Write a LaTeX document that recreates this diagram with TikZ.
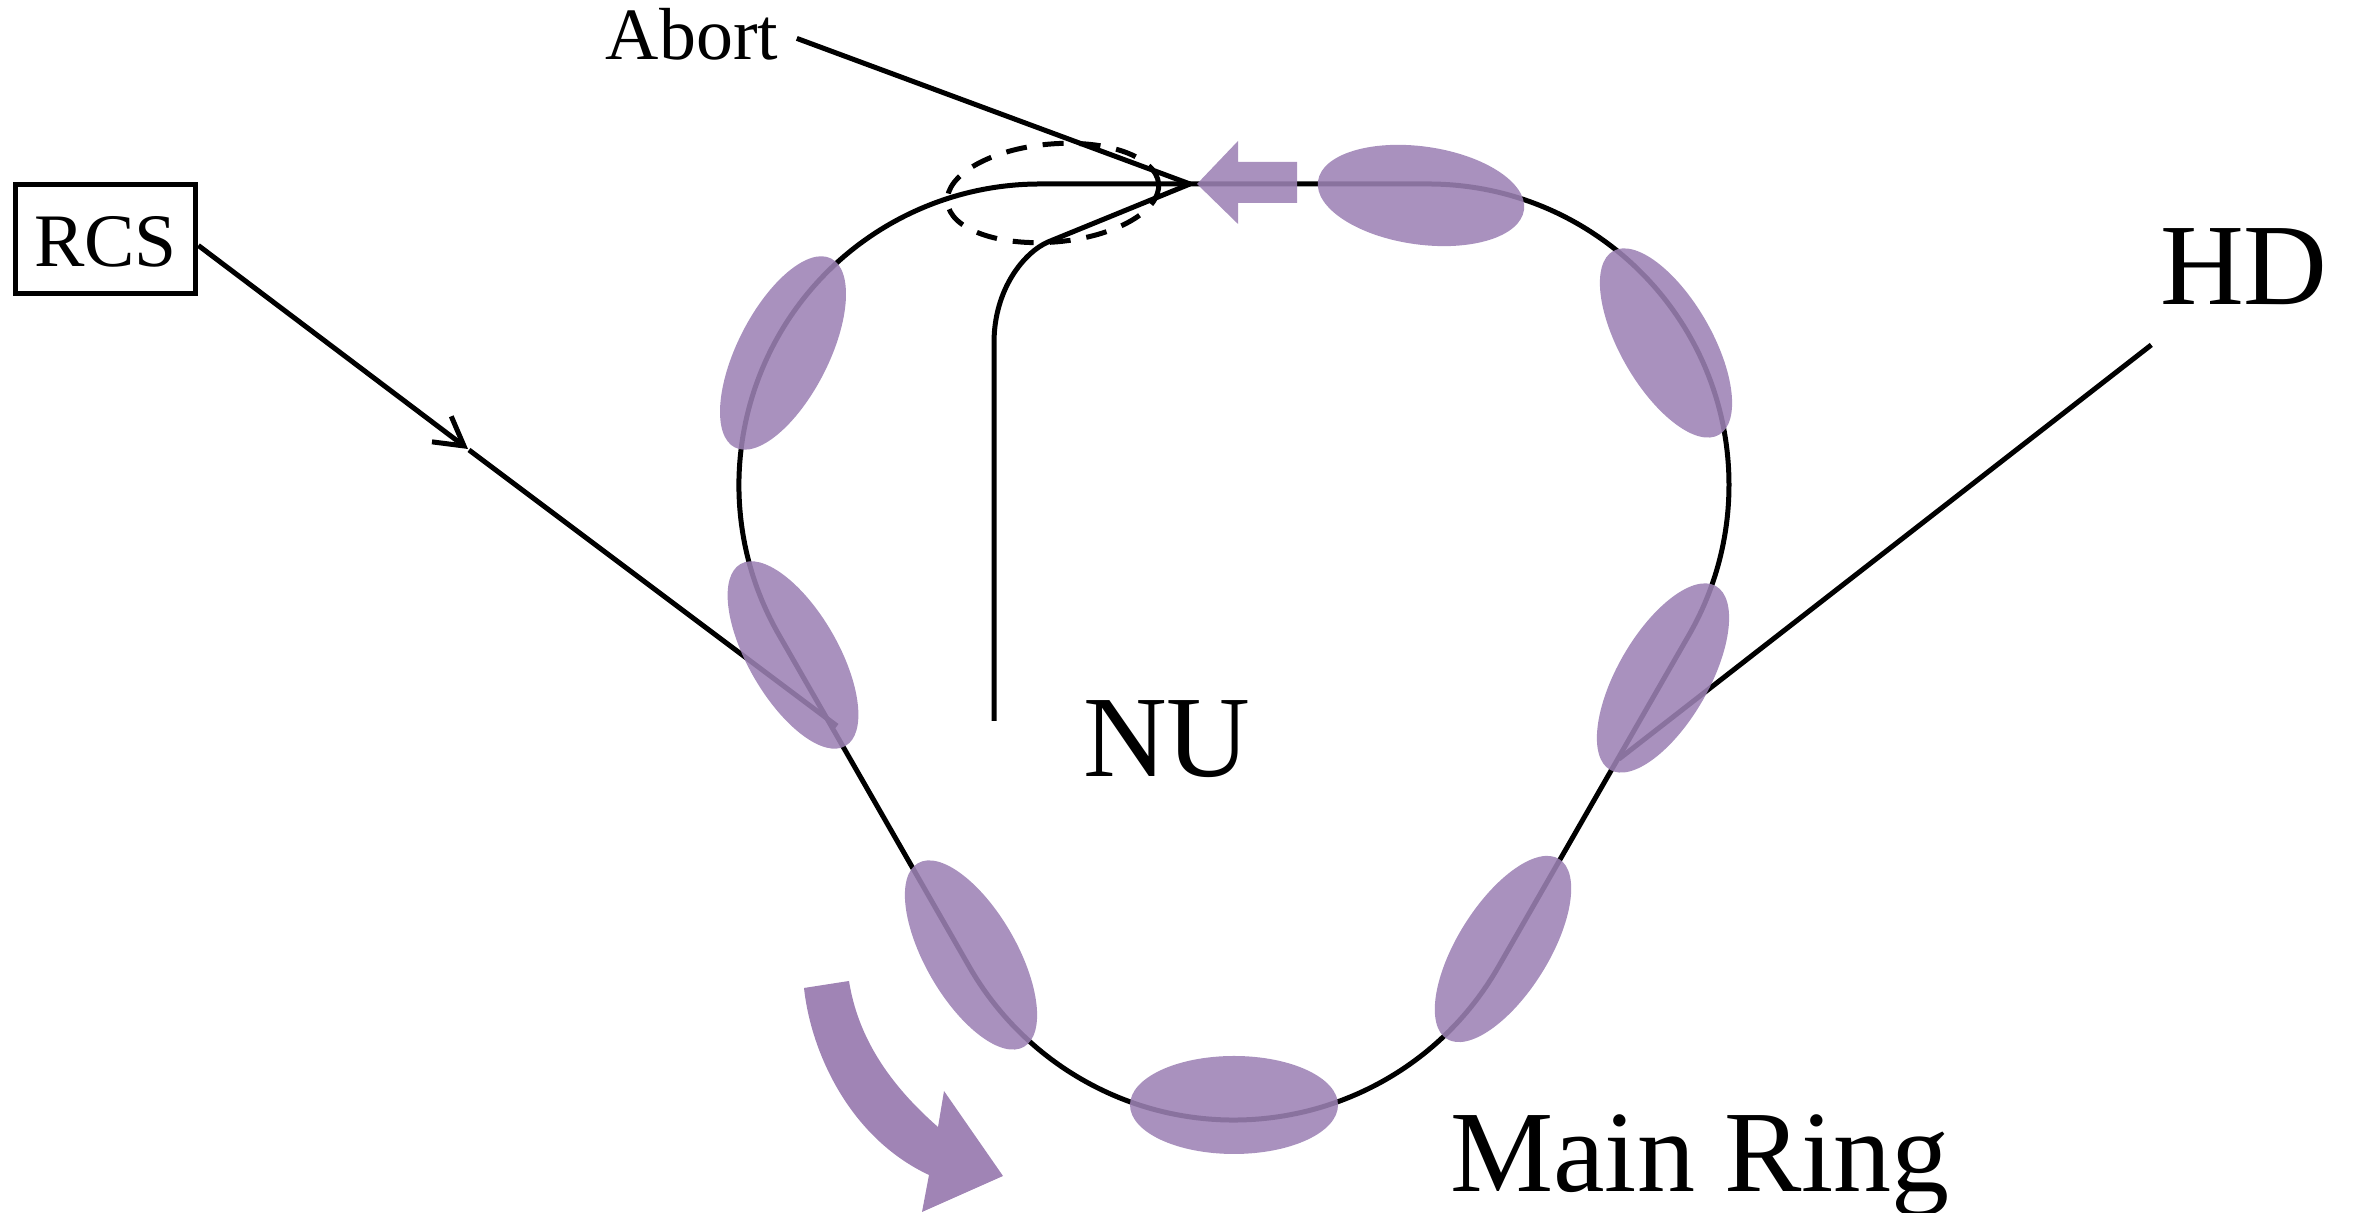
\documentclass[tikz,border=0pt]{standalone}
\usepackage{fontspec}
\setmainfont{Liberation Serif}
\usetikzlibrary{arrows.meta}
\definecolor{bunchcolor}{RGB}{157,130,181}
\definecolor{sensecolor}{RGB}{160,132,181}
\begin{document}
\begin{tikzpicture}[
    beam/.style={line width=.5mm},
    bunch/.style={fill=bunchcolor, fill opacity=.88},
    biglabel/.style={font=\fontsize{33}{33}\selectfont, anchor=base},
    smalllabel/.style={font=\fontsize{21}{21}\selectfont, anchor=base}
  ]
    \useasboundingbox (0,0) rectangle (235.7mm,121.3mm);

    \coordinate (kick) at (119mm,102.9mm);
    \coordinate (rcstip) at (46.8mm,76.4mm);
    \coordinate (rcsend) at (83.7mm,48.7mm);
    \coordinate (hdend) at (161.9mm,45.4mm);
    \coordinate (nubend) at (104.8mm,97.1mm);
    \coordinate (nuend) at (99.4mm,49.2mm);

    \node [draw, line width=.52mm, inner sep=0, minimum width=18.05mm, minimum height=10.95mm,
      text height=5.6mm, font=\fontsize{21.5}{22}\selectfont] (rcs) at (10.55mm,97.4mm) {RCS};
    \node [smalllabel, inner sep=1.8mm] (abort) at (69.2mm,115.3mm) {Abort};
    \node [biglabel, inner sep=3.9mm] (hd) at (224.4mm,90.8mm) {HD};
    \node [biglabel] (nu) at (116.7mm,43.6mm) {NU};
    \node [biglabel] (mainring) at (170mm,2.1mm) {Main Ring};

    % ring
    \draw [beam]
    (104mm,102.9mm) -- (142.8mm,102.9mm)
    arc (90:-30:30.1mm)
    -- (149.8mm,24.55mm)
    arc (-30:-150:30.5mm)
    -- (77.93mm,57.75mm)
    arc (-150:-270:30.1mm)
    -- cycle;

    % transfer lines
    \draw [beam, -{Straight Barb[length=2.8mm,width=3.2mm]}] (rcs.-4) -- (rcstip);
    \draw [beam] ([shift={(.1mm,-.1mm)}]rcstip) -- (rcsend);
    \draw [beam] (abort.-2) -- (kick);
    \draw [beam] (hd.220) -- (hdend);
    \draw [beam]
    (kick) -- (nubend)
    .. controls (102.5mm,96.1mm) and (99.4mm,92.5mm) .. (99.4mm,87mm)
    -- (nuend);

    \draw [beam, dash pattern=on 2.1mm off 1.6mm, rotate around={5:(105.3mm,102mm)}]
    (105.3mm,102mm) circle (10.6mm and 4.9mm);

    % bunches
    \fill [bunch, rotate around={-8:(142.1mm,101.75mm)}] (142.1mm,101.75mm) ellipse (10.4mm and 4.9mm);
    \fill [bunch, rotate around={120:(166.6mm,87mm)}] (166.6mm,87mm) ellipse (10.6mm and 4.56mm);
    \fill [bunch, rotate around={60:(166.3mm,53.5mm)}] (166.3mm,53.5mm) ellipse (10.6mm and 4.56mm);
    \fill [bunch, rotate around={58:(150.3mm,26.4mm)}] (150.3mm,26.4mm) ellipse (10.6mm and 4.56mm);
    \fill [bunch] (123.4mm,10.8mm) ellipse (10.4mm and 4.9mm);
    \fill [bunch, rotate around={120:(97.1mm,25.8mm)}] (97.1mm,25.8mm) ellipse (10.6mm and 4.56mm);
    \fill [bunch, rotate around={120:(79.3mm,55.8mm)}] (79.3mm,55.8mm) ellipse (10.5mm and 4.5mm);
    \fill [bunch, rotate around={63:(78.3mm,86mm)}] (78.3mm,86mm) ellipse (10.6mm and 4.56mm);

    % injection arrow
    \fill [bunch]
    (119.7mm,102.9mm) -- (123.8mm,107.2mm) -- (123.8mm,105.1mm) -- (129.7mm,105.1mm)
    -- (129.7mm,101mm) -- (123.8mm,101mm) -- (123.8mm,98.9mm) -- cycle;

    % sense of rotation
    \fill [sensecolor]
    (80.4mm,22.5mm) -- (84.9mm,23.2mm)
    .. controls (85.8mm,17.5mm) and (89mm,12.8mm) .. (93.8mm,8.6mm)
    -- (94.4mm,12.2mm) -- (100.3mm,3.7mm) -- (92.2mm,.1mm) -- (92.9mm,3.8mm)
    .. controls (85mm,7.5mm) and (81.1mm,16mm) .. (80.4mm,22.5mm);
  \end{tikzpicture}
\end{document}
